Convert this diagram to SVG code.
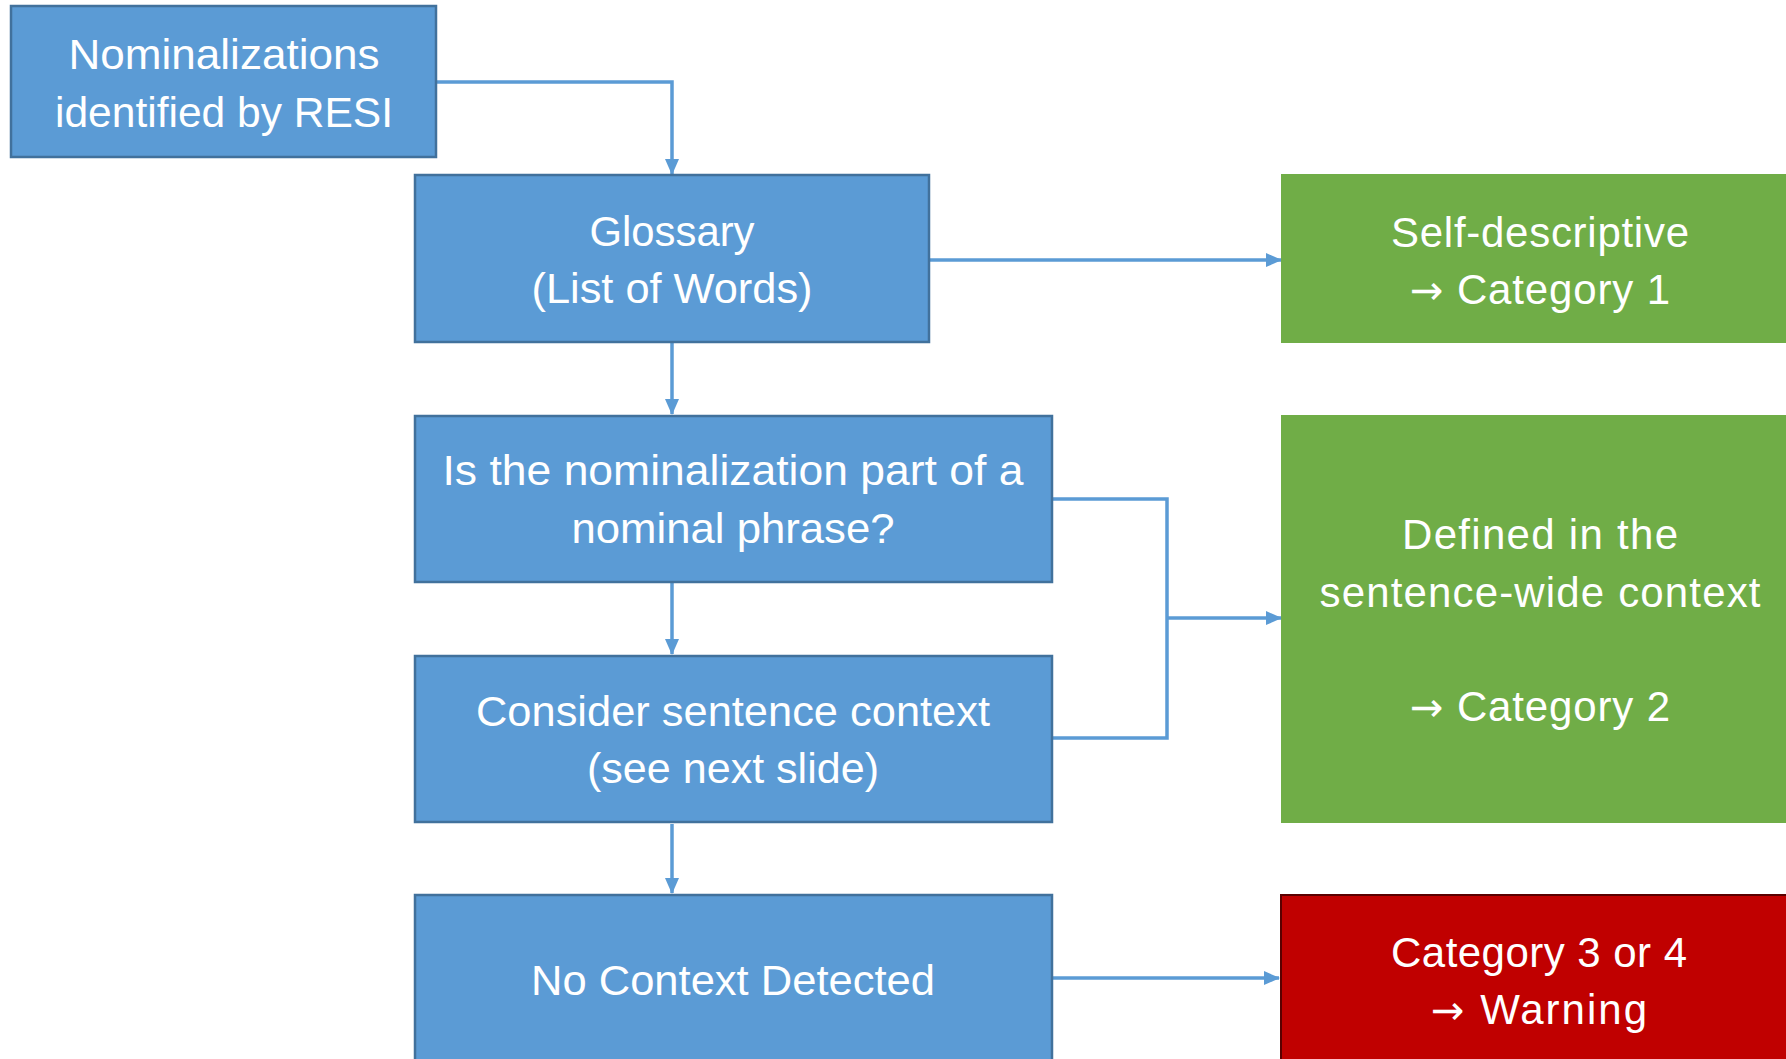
<svg xmlns="http://www.w3.org/2000/svg" width="1786" height="1059" viewBox="0 0 1786 1059">
<defs>
<style>
.blue{fill:#5B9BD5;stroke:#41719C;stroke-width:2.5}
.green{fill:#70AD47}
.red{fill:#C00000;stroke:#5A0000;stroke-width:2}
.bt{font-family:"Liberation Sans",Arial,sans-serif;font-size:42px;fill:#FFFFFF;text-anchor:middle}
.gt{font-family:"Liberation Sans",Arial,sans-serif;font-size:42px;fill:#FFFFFF;text-anchor:middle}
.ar{font-family:"DejaVu Sans",sans-serif;font-size:40px}
.conn{fill:none;stroke:#5B9BD5;stroke-width:3.5}
</style>
<marker id="arr" markerUnits="userSpaceOnUse" markerWidth="16" markerHeight="14" refX="15" refY="7" orient="auto">
<path d="M0,0 L16,7 L0,14 Z" fill="#5B9BD5"/>
</marker>
</defs>
<rect width="1786" height="1059" fill="#FFFFFF"/>
<g id="connectors">
<path class="conn" d="M436,82 H672 V174" marker-end="url(#arr)"/>
<path class="conn" d="M672,343 V414" marker-end="url(#arr)"/>
<path class="conn" d="M672,583 V654" marker-end="url(#arr)"/>
<path class="conn" d="M672,824 V893" marker-end="url(#arr)"/>
<path class="conn" d="M929,260 H1281" marker-end="url(#arr)"/>
<path class="conn" d="M1052,499 H1167 V738 H1052"/>
<path class="conn" d="M1167,618 H1281" marker-end="url(#arr)"/>
<path class="conn" d="M1052,978 H1279" marker-end="url(#arr)"/>
</g>
<g id="node-nominalizations">
<rect class="blue" x="11" y="6" width="425" height="151"/>
<text class="bt" x="224" y="69" textLength="311" lengthAdjust="spacingAndGlyphs">Nominalizations</text>
<text class="bt" x="224" y="127" textLength="338" lengthAdjust="spacingAndGlyphs">identified by RESI</text>
</g>
<g id="node-glossary">
<rect class="blue" x="415" y="175" width="514" height="167"/>
<text class="bt" x="672" y="246" textLength="165" lengthAdjust="spacingAndGlyphs">Glossary</text>
<text class="bt" x="672" y="303" textLength="281" lengthAdjust="spacingAndGlyphs">(List of Words)</text>
</g>
<g id="node-nominal-phrase">
<rect class="blue" x="415" y="416" width="637" height="166"/>
<text class="bt" x="733" y="485" textLength="581" lengthAdjust="spacingAndGlyphs">Is the nominalization part of a</text>
<text class="bt" x="733" y="543" textLength="323" lengthAdjust="spacingAndGlyphs">nominal phrase?</text>
</g>
<g id="node-sentence-context">
<rect class="blue" x="415" y="656" width="637" height="166"/>
<text class="bt" x="733" y="726" textLength="514" lengthAdjust="spacingAndGlyphs">Consider sentence context</text>
<text class="bt" x="733" y="783" textLength="292" lengthAdjust="spacingAndGlyphs">(see next slide)</text>
</g>
<g id="node-no-context">
<rect class="blue" x="415" y="895" width="637" height="200"/>
<text class="bt" x="733" y="995" textLength="404" lengthAdjust="spacingAndGlyphs">No Context Detected</text>
</g>
<g id="node-category1">
<rect class="green" x="1281" y="174" width="530" height="169"/>
<text class="gt" x="1540" y="247" textLength="298" lengthAdjust="spacing">Self-descriptive</text>
<text class="gt" x="1540" y="304" textLength="260" lengthAdjust="spacing"><tspan class="ar">→</tspan> Category 1</text>
</g>
<g id="node-category2">
<rect class="green" x="1281" y="415" width="530" height="408"/>
<text class="gt" x="1540" y="549" textLength="276" lengthAdjust="spacing">Defined in the</text>
<text class="gt" x="1540" y="607" textLength="441" lengthAdjust="spacing">sentence-wide context</text>
<text class="gt" x="1540" y="721" textLength="260" lengthAdjust="spacing"><tspan class="ar">→</tspan> Category 2</text>
</g>
<g id="node-warning">
<rect class="red" x="1281" y="895" width="530" height="200"/>
<text class="gt" x="1539" y="967" textLength="296" lengthAdjust="spacing">Category 3 or 4</text>
<text class="gt" x="1539" y="1024" textLength="216" lengthAdjust="spacing"><tspan class="ar">→</tspan> Warning</text>
</g>
</svg>
